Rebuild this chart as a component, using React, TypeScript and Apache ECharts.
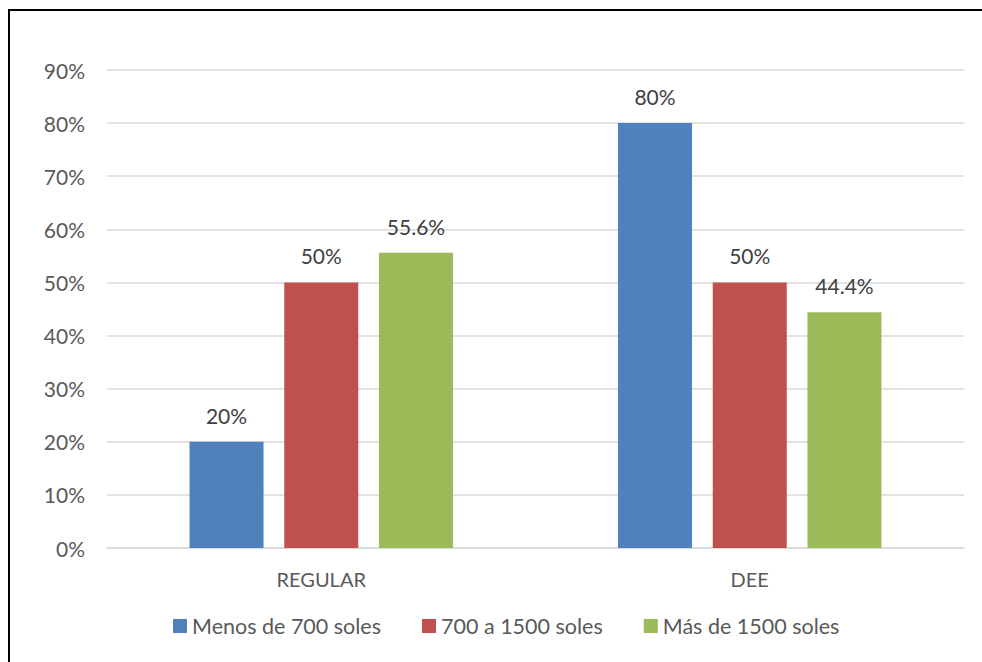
import React, { useEffect, useRef } from "react";
import * as echarts from "echarts";

const categories = ["REGULAR", "DEE"];
const seriesNames = ["Menos de 700 soles", "700 a 1500 soles", "Más de 1500 soles"];
const menos700 = [20, 80];
const de700a1500 = [50, 50];
const mas1500 = [55.6, 44.4];
const colors = ["#4F81BD", "#C0504D", "#9BBB59"];

const FONT = "Lato, 'Open Sans', sans-serif";
const TEXT = "#595959";

export default function App() {
  const ref = useRef<HTMLDivElement>(null);

  useEffect(() => {
    if (!ref.current) return;
    const chart = echarts.init(ref.current, null, { renderer: "svg" });
    const values = [menos700, de700a1500, mas1500];
    chart.setOption({
      animation: false,
      backgroundColor: "#ffffff",
      textStyle: { fontFamily: FONT },
      graphic: [
        {
          type: "line",
          shape: { x1: 8, y1: 10, x2: 982, y2: 10 },
          style: { stroke: "#000000", lineWidth: 2 },
          silent: true,
        },
        {
          type: "line",
          shape: { x1: 9, y1: 9, x2: 9, y2: 662 },
          style: { stroke: "#000000", lineWidth: 2 },
          silent: true,
        },
      ],
      legend: {
        bottom: 20,
        left: 168,
        padding: [5, 5, 5, 5],
        itemWidth: 14,
        itemHeight: 14,
        itemGap: 41,
        icon: "rect",
        textStyle: { color: TEXT, fontSize: 21.5, fontFamily: FONT },
        data: seriesNames,
      },
      grid: { left: 107, right: 18, top: 70, bottom: 114 },
      xAxis: {
        type: "category",
        data: categories,
        axisLine: { show: true, lineStyle: { color: "#d9d9d9", width: 1.5 } },
        axisTick: { show: false },
        axisLabel: { color: TEXT, fontSize: 20, margin: 21, fontFamily: FONT },
      },
      yAxis: {
        type: "value",
        min: 0,
        max: 90,
        interval: 10,
        axisLine: { show: false },
        axisTick: { show: false },
        axisLabel: {
          color: TEXT,
          fontSize: 21,
          margin: 22,
          fontFamily: FONT,
          formatter: (v: number) => `${v}%`,
        },
        splitLine: { lineStyle: { color: "#d9d9d9", width: 1.5 } },
      },
      series: seriesNames.map((name, i) => ({
        name,
        type: "bar",
        data: values[i],
        barWidth: 74,
        barGap: "28%",
        itemStyle: { color: colors[i] },
        label: {
          show: true,
          position: "top",
          distance: 16,
          color: "#404040",
          fontSize: 21,
          fontFamily: FONT,
          formatter: (p: any) => `${p.value}%`,
        },
      })),
    });
    return () => chart.dispose();
  }, []);

  return (
    <div
      ref={ref}
      style={{ position: "absolute", left: 0, top: 0, width: 982, height: 662 }}
    />
  );
}
